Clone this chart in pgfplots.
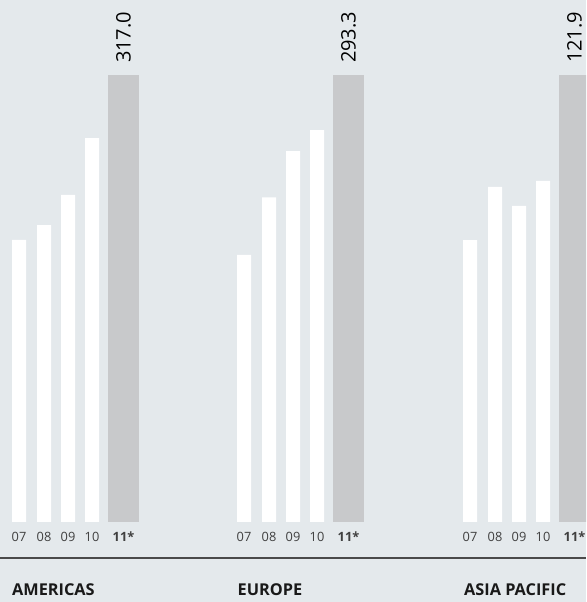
\documentclass[border=0pt]{standalone}
\usepackage{fontspec}
\setmainfont{Open Sans}
\usepackage{pgfplots}
\pgfplotsset{compat=1.18}
\definecolor{bg}{HTML}{E4E9EC}
\definecolor{barg}{HTML}{C8C9CB}
\definecolor{tickc}{HTML}{404040}
\definecolor{rulec}{HTML}{4A4A4A}
\pgfplotsset{panel/.style={
  scale only axis, width=160pt, height=447pt,
  xmin=0, xmax=160, ymin=0,
  axis line style={draw=none}, ytick=\empty, major tick length=0pt,
  xtick={19,44,68,92,123.5},
  xticklabels={07,08,09,10,\textbf{11*}},
  xticklabel style={font=\fontsize{12.8}{14}\selectfont, text=tickc, anchor=north, inner sep=0pt, yshift=-10pt},
  clip=false, anchor=south west,
  /pgf/number format/assume math mode=true,
}}
\pgfplotsset{oldbars/.style={ybar, bar width=14, fill=white, draw=none},
  newbar/.style={ybar, bar width=31, fill=barg, draw=none,
    nodes near coords={\pgfmathprintnumber[fixed,fixed zerofill,precision=1]{\pgfplotspointmeta}},
    every node near coord/.append style={rotate=90, anchor=west, inner sep=0pt, outer sep=0pt, xshift=12pt,
      font=\fontsize{20}{22}\selectfont, text=black}}}
\begin{document}
\begin{tikzpicture}[x=1pt,y=1pt]
\useasboundingbox (0,0) rectangle (586,602);
\clip (0,0) rectangle (586,602);
\fill[bg] (0,0) rectangle (586,602);
% AMERICAS
\begin{axis}[panel, at={(0pt,80pt)}, ymax=317.0]
\addplot[oldbars] coordinates {(19,200.0) (44,210.6) (68,231.9) (92,272.3)};
\addplot[newbar] coordinates {(123.5,317.0)};
\end{axis}
% EUROPE
\begin{axis}[panel, at={(225pt,80pt)}, ymax=293.3]
\addplot[oldbars] coordinates {(19,175.2) (44,213.0) (68,243.4) (92,257.2)};
\addplot[newbar] coordinates {(123.5,293.3)};
\end{axis}
% ASIA PACIFIC
\begin{axis}[panel, at={(451pt,80pt)}, ymax=121.9]
\addplot[oldbars] coordinates {(19,76.9) (44,91.4) (68,86.2) (92,93.0)};
\addplot[newbar] coordinates {(123.5,121.9)};
\end{axis}
\draw[rulec, line width=1.3pt] (0,44) -- (586,44);
\node[anchor=base west, inner sep=0pt, font=\fontsize{16.3}{18}\selectfont\bfseries, text=black!90] at (12,6) {AMERICAS};
\node[anchor=base west, inner sep=0pt, font=\fontsize{16.3}{18}\selectfont\bfseries, text=black!90] at (237.5,6) {EUROPE};
\node[anchor=base west, inner sep=0pt, font=\fontsize{16.3}{18}\selectfont\bfseries, text=black!90] at (464,6) {ASIA PACIFIC};
\end{tikzpicture}
\end{document}
